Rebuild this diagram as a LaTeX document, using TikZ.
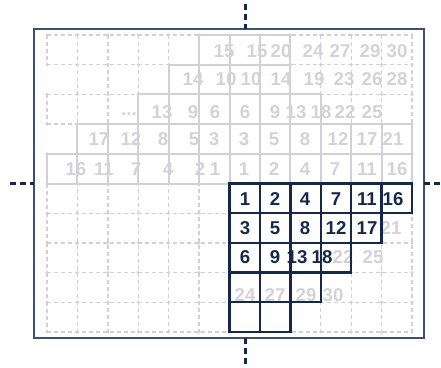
\documentclass[tikz,border=0pt]{standalone}
\usepackage{fontspec}
\setmainfont{Liberation Sans}
\definecolor{lgray}{RGB}{208,208,214}
\definecolor{tgray}{RGB}{210,210,216}
\definecolor{navy}{RGB}{22,40,74}
\definecolor{framec}{RGB}{62,80,110}
\tikzset{
  gridl/.style={draw=lgray, line width=1.4pt, dash pattern=on 4pt off 3pt},
  gsolid/.style={draw=lgray, line width=2pt},
  ncell/.style={draw=navy, line width=2.3pt},
  numfont/.style={font=\bfseries\fontsize{18.6}{18.6}\selectfont, inner sep=0pt, anchor=center},
  gnum/.style={numfont, text=tgray},
  nnum/.style={numfont, text=navy},
  axisline/.style={draw=navy, line width=3pt, dash pattern=on 6pt off 4pt},
  framebox/.style={draw=framec, line width=1.3pt}
}
\begin{document}
\begin{tikzpicture}[x=1pt,y=-1pt]
\useasboundingbox (0,0) rectangle (441,367);

% ---- grid in cell units ----
\begin{scope}[shift={(47,35)},x=30.42pt,y=-29.7pt]
  % dashed background grid
  \foreach \r in {0,...,10} \draw[gridl] (0,\r) -- (12,\r);
  \foreach \c in {1,...,12} \draw[gridl] (\c,0) -- (\c,10);
  \foreach \r in {0,2,4,5,6,7,8,9} \draw[gridl] (0,\r) -- (0,\r+1);
  \foreach \c in {0,...,12} \foreach \r in {0,...,10} \fill[lgray] (\c,\r) circle (1.7pt);
  % light gray solid staircase
  \foreach \c in {5,...,7}  \draw[gsolid] (\c,0) rectangle ++(1,1);
  \foreach \c in {4,...,7}  \draw[gsolid] (\c,1) rectangle ++(1,1);
  \foreach \c in {3,...,8}  \draw[gsolid] (\c,2) rectangle ++(1,1);
  \foreach \c in {1,...,11} \draw[gsolid] (\c,3) rectangle ++(1,1);
  \foreach \c in {0,...,11} \draw[gsolid] (\c,4) rectangle ++(1,1);
\end{scope}

% ---- light gray numbers ----
\foreach \x/\t [count=\i] in {224/15,257/15,281/20,313/24,340/27,370/29,397/30}
  \node[gnum] (ga\i) at (\x,51.5) {\t};
\foreach \x/\t [count=\i] in {193/14,226/10,251/10,281/14,314/19,344/23,372/26,397/28}
  \node[gnum] (gb\i) at (\x,79.5) {\t};
\foreach \x/\t [count=\i] in {162/13,193/9,215/6,245/6,275/9,296/13,321/18,345/22,372/25}
  \node[gnum] (gc\i) at (\x,112.5) {\t};
\node[gnum] (gdots) at (129,114) {...};
\foreach \x/\t [count=\i] in {99/17,131/12,163/8,194/5,214/3,244/3,274/5,305/8,338/12,367/17,393/21}
  \node[gnum] (gd\i) at (\x,139.5) {\t};
\foreach \x/\t [count=\i] in {76/16,104/11,136/7,168/4,200/2,215/1,244/1,274/2,305/4,335/7,367/11,397/16}
  \node[gnum] (ge\i) at (\x,169) {\t};
\node[gnum] (gf1) at (391,228.5) {21};
\node[gnum] (gg1) at (343,257) {22};
\node[gnum] (gg2) at (373,257) {25};
\foreach \x/\t [count=\i] in {245/24,275/27,306/29,333/30}
  \node[gnum] (gh\i) at (\x,295) {\t};

% ---- navy cells ----
\begin{scope}[shift={(47,35)},x=30.42pt,y=-29.7pt]
  \foreach \c in {6,...,11} \draw[ncell] (\c,5) rectangle ++(1,1);
  \foreach \c in {6,...,10} \draw[ncell] (\c,6) rectangle ++(1,1);
  \foreach \c in {6,...,9}  \draw[ncell] (\c,7) rectangle ++(1,1);
  \foreach \c in {6,...,8}  \draw[ncell] (\c,8) rectangle ++(1,1);
  \foreach \c in {6,7}      \draw[ncell] (\c,9) rectangle ++(1,1);
\end{scope}

% ---- navy numbers ----
\foreach \x/\t [count=\i] in {245/1,275/2,305/4,336/7,367/11,393/16}
  \node[nnum] (na\i) at (\x,199) {\t};
\foreach \x/\t [count=\i] in {245/3,275/5,305/8,336/12,367/17}
  \node[nnum] (nb\i) at (\x,228.5) {\t};
\foreach \x/\t [count=\i] in {245/6,275/9,297/13,322/18}
  \node[nnum] (nc\i) at (\x,257) {\t};

% ---- frame ----
\draw[framebox] (34,29) rectangle (424,338);

% ---- dashed axes ----
\coordinate (vt1) at (245,4);   \coordinate (vt2) at (245,29);
\coordinate (vb1) at (245,338); \coordinate (vb2) at (245,367);
\coordinate (hl1) at (10,183);  \coordinate (hl2) at (34,183);
\coordinate (hr1) at (424,183); \coordinate (hr2) at (441,183);
\draw[axisline] (vt1) -- (vt2);
\draw[axisline] (vb1) -- (vb2);
\draw[axisline] (hl1) -- (hl2);
\draw[axisline] (hr1) -- (hr2);
\end{tikzpicture}
\end{document}
